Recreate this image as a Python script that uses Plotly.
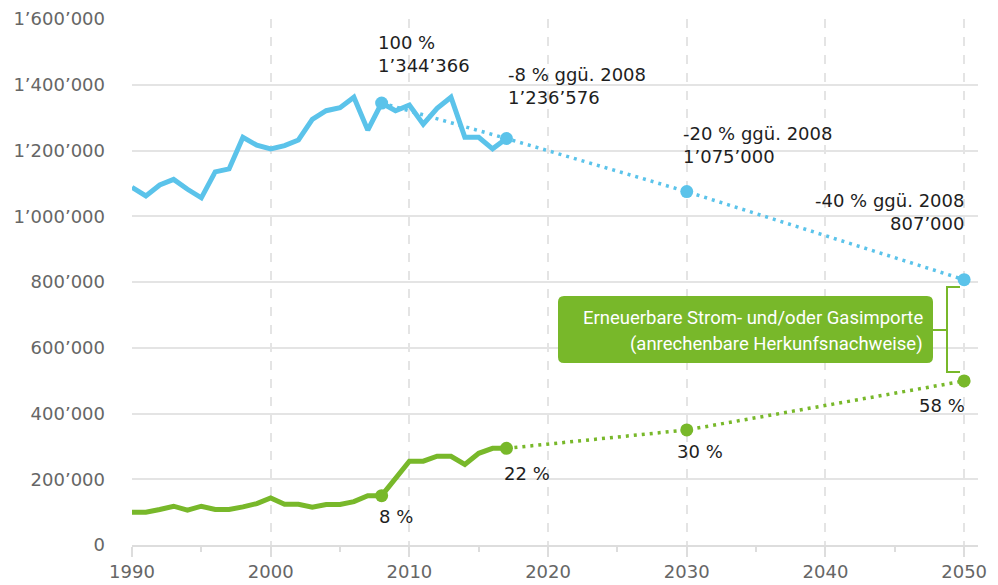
import plotly.graph_objects as go

# ---------------- data ----------------
years_hist = list(range(1990, 2018))
total_hist = [1088000, 1062000, 1095000, 1112000, 1082000, 1056000, 1135000, 1144000,
              1240000, 1216000, 1205000, 1215000, 1232000, 1295000, 1321000, 1330000,
              1362000, 1262000, 1344366, 1321000, 1338000, 1280000, 1328000, 1362000,
              1240000, 1240000, 1205000, 1236576]
renew_hist = [100000, 100000, 108000, 118000, 106000, 118000, 108000, 108000,
              116000, 126000, 143000, 124000, 124000, 115000, 123000, 123000,
              132000, 150000, 150000, 203000, 255000, 255000, 270000, 270000,
              245000, 279000, 294000, 294000]

total_target_years = [2008, 2017, 2030, 2050]
total_target_vals = [1344366, 1236576, 1075000, 807000]
total_target_labels = ["100 %<br>1’344’366", "-8 % ggü. 2008<br>1’236’576",
                       "-20 % ggü. 2008<br>1’075’000", "-40 % ggü. 2008<br>807’000"]

renew_target_years = [2017, 2030, 2050]
renew_target_vals = [294000, 350000, 499000]
renew_marker_years = [2008, 2017, 2030, 2050]
renew_marker_vals = [150000, 294000, 350000, 499000]
renew_labels = ["8 %", "22 %", "30 %", "58 %"]

y_ticks = [0, 200000, 400000, 600000, 800000, 1000000, 1200000, 1400000, 1600000]
y_tick_text = ["0", "200’000", "400’000", "600’000", "800’000", "1’000’000",
               "1’200’000", "1’400’000", "1’600’000"]
x_ticks = [1990, 2000, 2010, 2020, 2030, 2040, 2050]

box_text = ["Erneuerbare Strom- und/oder Gasimporte", "(anrechenbare Herkunfsnachweise)"]

# ---------------- style ----------------
BLUE = "#5BC3EA"
GREEN = "#78B82A"
FONT = "DejaVu Sans"
OFF = 8                      # page body margin
W, H = 998 - OFF, 585 - OFF
PL, PR, PT, PB = 132, 978, 19, 545   # plot area in page pixels
ML, MT = PL - OFF, PT - OFF
MR, MB = W - (PR - OFF), H - (PB - OFF)
X0, X1 = 1990, 2051
Y0, Y1 = 0, 1600000


def px_to_data(px, py):
    return (X0 + (px - PL) / (PR - PL) * (X1 - X0), Y0 + (PB - py) / (PB - PT) * (Y1 - Y0))


def P2(px, py):
    dx, dy = px_to_data(px, py)
    return f"{dx},{dy}"


def rounded_rect(x0, y0, x1, y1, r):
    return (f"M {P2(x0 + r, y0)} L {P2(x1 - r, y0)} Q {P2(x1, y0)} {P2(x1, y0 + r)} "
            f"L {P2(x1, y1 - r)} Q {P2(x1, y1)} {P2(x1 - r, y1)} "
            f"L {P2(x0 + r, y1)} Q {P2(x0, y1)} {P2(x0, y1 - r)} "
            f"L {P2(x0, y0 + r)} Q {P2(x0, y0)} {P2(x0 + r, y0)} Z")


fig = go.Figure()

# projections (dotted)
fig.add_trace(go.Scatter(x=total_target_years, y=total_target_vals, mode="lines",
                         line=dict(color=BLUE, width=3.5, dash="3px,5px"),
                         hoverinfo="skip", showlegend=False))
fig.add_trace(go.Scatter(x=renew_target_years, y=renew_target_vals, mode="lines",
                         line=dict(color=GREEN, width=3.5, dash="3px,5px"),
                         hoverinfo="skip", showlegend=False))
# history (solid)
fig.add_trace(go.Scatter(x=years_hist, y=total_hist, mode="lines",
                         line=dict(color=BLUE, width=5), showlegend=False))
fig.add_trace(go.Scatter(x=years_hist, y=renew_hist, mode="lines",
                         line=dict(color=GREEN, width=5), showlegend=False))
# markers
fig.add_trace(go.Scatter(x=total_target_years, y=total_target_vals, mode="markers",
                         marker=dict(color=BLUE, size=13), showlegend=False))
fig.add_trace(go.Scatter(x=renew_marker_years, y=renew_marker_vals, mode="markers",
                         marker=dict(color=GREEN, size=13), showlegend=False))

annotations = []
blue_pos = [("left", -6, 49), ("left", 0, 52), ("left", -6, 47), ("right", 2, 68)]
for (xa, xs, ys), x, y, t in zip(blue_pos, total_target_years, total_target_vals, total_target_labels):
    annotations.append(dict(x=x, y=y, xref="x", yref="y", text=t, showarrow=False,
                            xanchor=xa, yanchor="middle", align=xa, xshift=xs, yshift=ys,
                            font=dict(family=FONT, size=18, color="#1e1e1e")))
green_pos = [("left", -5, -21), ("left", -4, -25), ("left", -12, -22), ("right", 3, -25)]
for (xa, xs, ys), x, y, t in zip(green_pos, renew_marker_years, renew_marker_vals, renew_labels):
    annotations.append(dict(x=x, y=y, xref="x", yref="y", text=t, showarrow=False,
                            xanchor=xa, yanchor="middle", align=xa, xshift=xs, yshift=ys,
                            font=dict(family=FONT, size=18, color="#1e1e1e")))

# callout box text
for t, py in zip(box_text, [318, 344]):
    bx, by = px_to_data(925, py)
    annotations.append(dict(x=bx, y=by, xref="x", yref="y", text=t, showarrow=False,
                            xanchor="right", yanchor="middle",
                            font=dict(family="Roboto", size=18.5, color="white")))

shapes = [
    dict(type="path", path=rounded_rect(558, 296, 933, 363, 6), xref="x", yref="y",
         fillcolor=GREEN, line=dict(width=0), layer="above"),
    dict(type="path",
         path=f"M {P2(933, 330)} L {P2(947, 330)} M {P2(960, 287)} L {P2(947, 287)} "
              f"L {P2(947, 372)} L {P2(960, 372)}",
         xref="x", yref="y", line=dict(color=GREEN, width=2), layer="above"),
]

fig.update_layout(
    width=W, height=H,
    margin=dict(l=ML, r=MR, t=MT, b=MB, pad=0, autoexpand=False),
    paper_bgcolor="white", plot_bgcolor="white",
    font=dict(family=FONT, size=18, color="#666666"),
    annotations=annotations,
    shapes=shapes,
    showlegend=False,
    xaxis=dict(range=[X0, X1], tickvals=x_ticks, showgrid=True, gridcolor="#e4e4e4",
               griddash="dash", gridwidth=1.5, showline=True, linecolor="#dddddd",
               linewidth=1.5, ticks="outside", ticklen=10, tickcolor="#dddddd",
               tickwidth=1.5, zeroline=False, automargin=False,
               minor=dict(dtick=5, tick0=1990, ticks="outside", ticklen=5,
                          tickcolor="#dddddd", showgrid=False),
               tickfont=dict(family=FONT, size=18, color="#666666")),
    yaxis=dict(range=[Y0, Y1], tickvals=y_ticks, ticktext=y_tick_text, showgrid=True,
               gridcolor="#e4e4e4", gridwidth=1.5, zeroline=False, showline=False,
               ticks="", ticklabelstandoff=26, automargin=False,
               tickfont=dict(family=FONT, size=18, color="#666666")),
)

fig.write_html("out.html")
